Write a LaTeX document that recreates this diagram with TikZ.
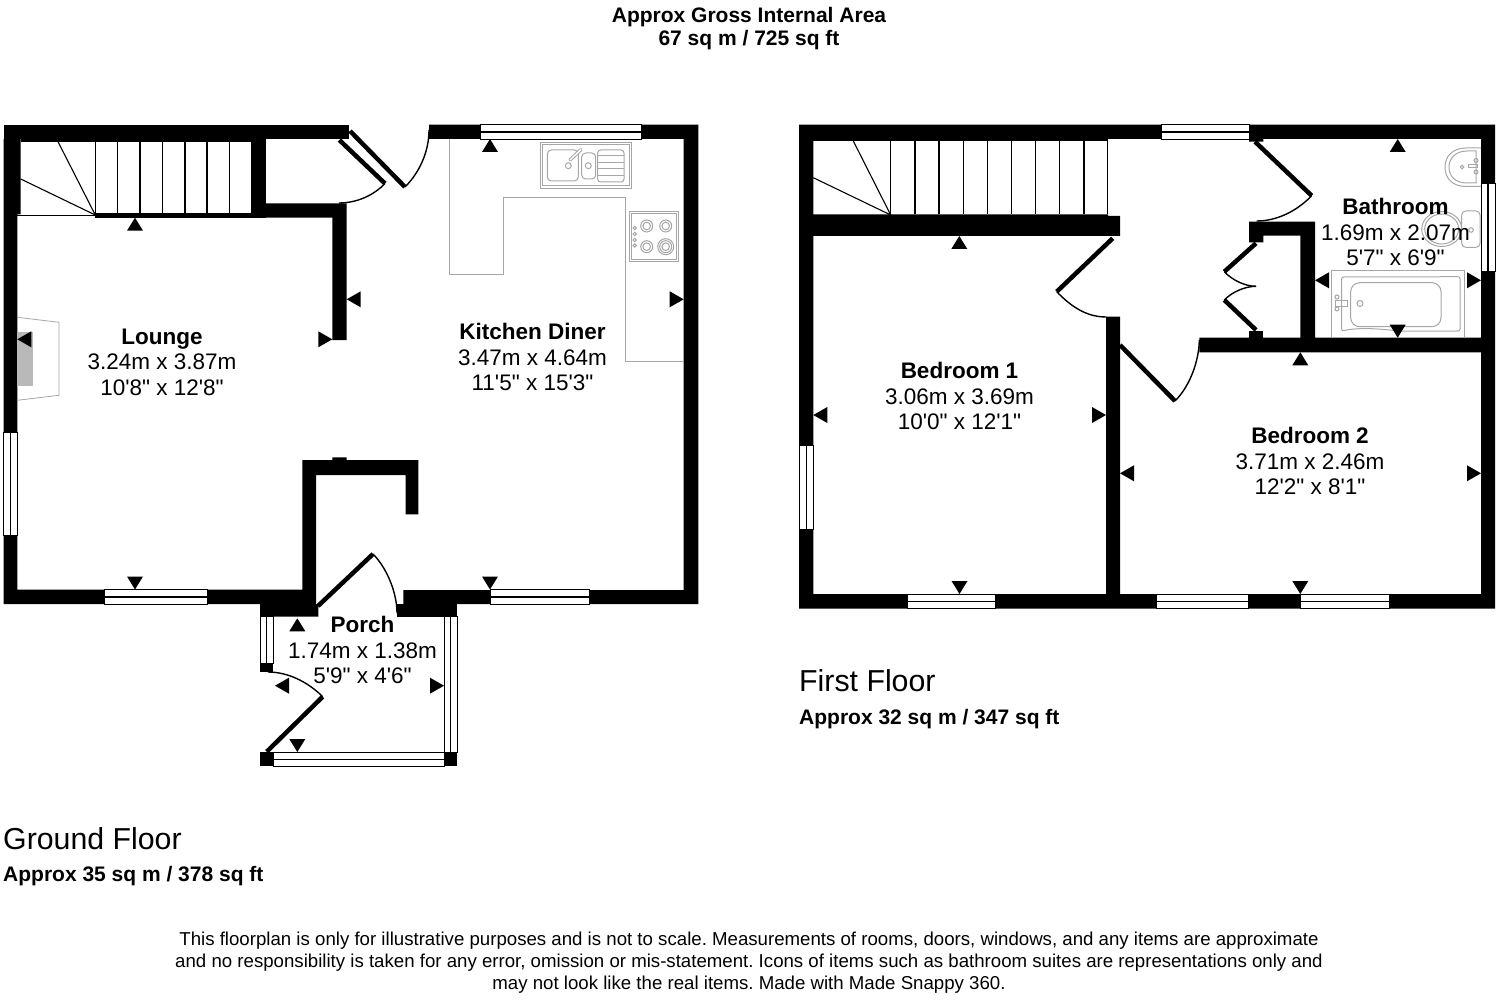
\documentclass[tikz,border=0pt]{standalone}
\usepackage{fontspec}
\setmainfont{Liberation Sans}[Ligatures=TeXOff]
\usetikzlibrary{calc}
\definecolor{fixture}{HTML}{A6A6A6}
\definecolor{hearth}{HTML}{B9B9B9}
\tikzset{%
	wall/.style     = {fill=black},
	pane/.style     = {draw=black, fill=white, line width=0.9pt},
	leaf/.style     = {draw=black, line width=4.5pt},
	swing/.style    = {draw=black, line width=1.4pt},
	unit/.style     = {draw=fixture, line width=1pt},
	room/.style     = {align=center, inner sep=0pt, font=\fontsize{22.5}{25.6}\selectfont},
	caption/.style  = {align=center, inner sep=0pt, font=\fontsize{18.65}{22}\selectfont\frenchspacing},
	heading/.style  = {align=center, inner sep=0pt, font=\fontsize{21}{23}\selectfont\bfseries},
	floorname/.style= {anchor=west, inner sep=0pt, font=\fontsize{30.3}{34}\selectfont},
	floorarea/.style= {anchor=west, inner sep=0pt, font=\fontsize{21}{23}\selectfont\bfseries},
}
% tip of each marker sits on the wall
\newcommand{\tipup}[2]{\fill (#1,#2) -- ++(-8,13) -- ++(16,0) -- cycle;}
\newcommand{\tipdown}[2]{\fill (#1,#2) -- ++(-8,-13) -- ++(16,0) -- cycle;}
\newcommand{\tipleft}[2]{\fill (#1,#2) -- ++(14,-8) -- ++(0,16) -- cycle;}
\newcommand{\tipright}[2]{\fill (#1,#2) -- ++(-14,-8) -- ++(0,16) -- cycle;}
\newcommand{\paneh}[3]{\draw[pane] (#1,#3) rectangle (#2,#3+14.3); \draw[line width=1.3pt] (#1,#3+7.2) -- (#2,#3+7.2);}
\newcommand{\panev}[4]{\draw[pane] (#1,#3) rectangle (#2,#4); \draw[line width=1.3pt] ($(#1,#3)!0.5!(#2,#3)$) -- ($(#1,#4)!0.5!(#2,#4)$);}
\begin{document}
\begin{tikzpicture}[x=1pt,y=-1pt]
	\useasboundingbox (0,0) rectangle (1496,1000);
	
	% ground floor walls
	\fill[wall] (3.5,124.7) rectangle (349,139);
	\fill[wall] (3.5,139) -- (20.7,139) -- (20.7,214.5) -- (17.3,214.5) -- (17.3,589.5) -- (302.3,589.5) -- (302.3,460) -- (332.3,460) -- (332.3,457.3) -- (346.7,457.3) -- (346.7,460) -- (418.3,460) -- (418.3,514.3) -- (405.7,514.3) -- (405.7,475) -- (316,475) -- (316,604) -- (318.3,604) -- (318.3,616.7) -- (260,616.7) -- (260,604) -- (3.5,604) -- cycle;
	\fill[wall] (20.7,139) rectangle (250.7,141.7);
	\fill[wall] (250.7,139) rectangle (266,217.7);
	\fill[wall] (95,213.3) rectangle (252,217.7);
	\fill[wall] (266,203.3) -- (346.5,203.3) -- (346.5,340) -- (332.3,340) -- (332.3,217.7) -- (266,217.7) -- cycle;
	\fill[wall] (429,124.7) -- (698.3,124.7) -- (698.3,604) -- (403.3,604) -- (403.3,590) -- (683.7,590) -- (683.7,139) -- (429,139) -- cycle;
	\fill[wall] (397.3,604) rectangle (457.3,616.7);
	\fill[wall] (260,663) rectangle (273.3,672);
	\fill[wall] (260,752) rectangle (273.3,766);
	\fill[wall] (444,752) rectangle (457.3,766);
	\draw[line width=1pt] (17.3,215.3) -- (95,215.3);
	
	% stairs
	\foreach \tread in {95.3,117.3,140,162.3,185,207,229.7}
		\draw[line width=1.1pt] (\tread,141.7) -- (\tread,214);
	\draw[line width=1.1pt] (58,141.7) -- (95.3,215) -- (20.7,179);
	
	% windows
	\paneh{480}{641}{124.9}
	\paneh{104.5}{207.3}{589.7}
	\paneh{490.5}{589.5}{589.7}
	\panev{3.5}{17.3}{432}{535.3}
	\panev{260}{273.3}{616.7}{663}
	\panev{444}{457.3}{616.7}{752}
	\paneh{273.3}{444}{752}
	
	% doors
	\draw[leaf] (350,131) -- (405,187);
	\draw[swing] (405,187) .. controls (420,172) and (429,151) .. (429,130);
	\draw[leaf] (339.3,140) -- (385,183.5);
	\draw[swing] (385,183.5) .. controls (373,196) and (356,203) .. (339,203);
	\draw[leaf] (318,606) -- (373,554);
	\draw[swing] (373,554) .. controls (387,568) and (397,593) .. (397,613);
	\draw[leaf] (266.7,751.7) -- (322.7,696.7);
	\draw[swing] (322.7,696.7) .. controls (308,682) and (288,672) .. (268,672);
	
	% kitchen units
	\draw[unit] (449.3,139) -- (449.3,275) -- (503.3,275) -- (503.3,197.3) -- (625.3,197.3) -- (625.3,361.3) -- (683.7,361.3);
	\draw[unit] (540,142.7) rectangle (631.3,188.3);
	\draw[unit] (542.3,145) rectangle (629,186);
	\draw[unit,rounded corners=4pt] (547.3,150) rectangle (578.3,181);
	\draw[unit,rounded corners=4pt] (581.7,153) rectangle (595.7,179);
	\draw[unit,rounded corners=3pt] (597.7,150) rectangle (624,182);
	\foreach \slot in {156,162.5,169,175.5}
		\draw[unit] (597.7,\slot) -- (624,\slot);
	\draw[fixture,line width=3.4pt,line cap=round] (570,160) -- (581,149.5);
	\draw[white,line width=1.4pt,line cap=round] (570,160) -- (581,149.5);
	\draw[unit] (568.3,165.7) circle (3) (588.3,165.7) circle (3);
	\draw[unit] (629.3,212) rectangle (678.7,261.7);
	\draw[unit] (631.5,214) rectangle (676.5,259.5);
	\foreach \ringx/\ringy in {646.7/226,665.7/226,646.7/246.7,665.7/246.7}{
		\draw[unit] (\ringx,\ringy) circle (6);
		\draw[unit] (\ringx,\ringy) circle (3.8);
	}
	\draw[unit] (665.7,246.7) circle (8);
	\foreach \knob in {228,234,240,245.5}
		\draw[unit] (634.7,\knob) circle (1.7);
	
	% fireplace
	\fill[hearth] (17.3,332) rectangle (33.3,385.7);
	\draw[fixture,line width=0.8pt] (17.3,317.3) -- (59,322.3) -- (59,395.3) -- (17.3,400.3);
	
	% first floor walls
	\fill[wall] (799,124.7) -- (1161.7,124.7) -- (1161.7,139) -- (813.3,139) -- (813.3,214.5) -- (1108,214.5) -- (1108,216) -- (1120,216) -- (1120,236) -- (813.3,236) -- (813.3,594) -- (1106,594) -- (1106,316.7) -- (1120,316.7) -- (1120,594) -- (1481,594) -- (1481,352.3) -- (1199.3,352.3) -- (1199.3,337.7) -- (1300.3,337.7) -- (1300.3,235.7) -- (1263.3,235.7) -- (1263.3,242.3) -- (1249,242.3) -- (1249,221.7) -- (1315,221.7) -- (1315,337.7) -- (1481,337.7) -- (1481,139) -- (1263.3,139) -- (1263.3,141.7) -- (1249,141.7) -- (1249,124.7) -- (1495,124.7) -- (1495,608.5) -- (799,608.5) -- cycle;
	\fill[wall] (813.3,139) rectangle (1108,141);
	\fill[wall] (1249,331) rectangle (1263.3,338);
	
	% stairs
	\foreach \tread in {890.7,915,939,963.3,987.3,1011.3,1035.7,1059.3,1084,1107.7}
		\draw[line width=1.1pt] (\tread,141) -- (\tread,214.5);
	\draw[line width=1.1pt] (853.3,141) -- (890.7,215) -- (813.3,177.7);
	
	% windows
	\paneh{1161.7}{1249}{124.9}
	\paneh{907.6}{995.9}{594.2}
	\paneh{1156.5}{1248.5}{594.2}
	\paneh{1300.5}{1389.5}{594.2}
	\panev{799}{813.3}{445}{529.3}
	\panev{1481}{1495}{183.3}{271.7}
	
	% doors
	\draw[leaf] (1112.7,238.3) -- (1056.7,291.7);
	\draw[swing] (1056.7,291.7) .. controls (1070.5,306) and (1086,317) .. (1106,317);
	\draw[leaf] (1255,141.7) -- (1311.7,195.7);
	\draw[swing] (1311.7,195.7) .. controls (1297,211) and (1277,221) .. (1256.7,221);
	\draw[leaf] (1256,243.3) -- (1224.3,271.7);
	\draw[swing] (1224.3,271.7) .. controls (1232,280) and (1245,286.3) .. (1256,286.3);
	\draw[leaf] (1256,330) -- (1224.3,300);
	\draw[swing] (1224.3,300) .. controls (1232,292) and (1245,286.3) .. (1256,286.3);
	\draw[leaf] (1120,345) -- (1175,401);
	\draw[swing] (1175,401) .. controls (1190,386) and (1199,361) .. (1199.3,340);
	
	% bathroom suite
	\draw[unit] (1331.7,270.7) rectangle (1464.3,337);
	\draw[unit,rounded corners=2pt] (1341.7,277) -- (1460,276.7) -- (1460,331) -- (1400,331) .. controls (1380,329) and (1360,327) .. (1341.7,331) -- cycle;
	\draw[unit,rounded corners=9pt] (1350.7,282.7) -- (1441,282.7) -- (1441,326.7) -- (1350.7,326.7) -- cycle;
	\draw[unit] (1335,300.5) rectangle (1347,306);
	\draw[unit] (1337,297) circle (2) (1337,309) circle (2) (1360,303.5) circle (3);
	\draw[unit,rounded corners=4pt] (1461.7,211) rectangle (1480,247.3);
	\draw[unit] (1441.7,229) ellipse (20 and 17.5);
	\draw[unit] (1441.7,229) ellipse (17 and 15);
	\draw[unit] (1471,230) circle (2.3);
	\draw[unit] (1481,148) -- (1466,148) .. controls (1452,148) and (1445,157) .. (1445,167) .. controls (1445,178) and (1452,186.5) .. (1466,186.5) -- (1481,186.5);
	\draw[unit] (1476,151) -- (1467,151) .. controls (1455,151) and (1449,159) .. (1449,167) .. controls (1449,176) and (1455,183) .. (1467,183) -- (1476,183) -- cycle;
	\draw[unit] (1468,165) rectangle (1477,168);
	\draw[unit] (1476,160.5) circle (2) (1476,172) circle (2) (1462,167) circle (1.8);
	
	% markers, ground floor
	\tipup{135}{217.7} \tipleft{17.3}{339.3} \tipright{332.3}{339.3} \tipdown{135}{589.5}
	\tipup{490}{139} \tipleft{346.7}{299.3} \tipright{683.7}{299.3} \tipdown{490}{589.5}
	\tipup{297.3}{618.3} \tipleft{275}{685.7} \tipright{444}{685.7} \tipdown{297.3}{752}
	% markers, first floor
	\tipup{959.3}{236} \tipleft{813.3}{415} \tipright{1106}{415} \tipdown{959.5}{594}
	\tipup{1300.3}{352.3} \tipleft{1120}{473.3} \tipright{1481}{473.3} \tipdown{1300.3}{594}
	\tipup{1397.7}{139} \tipleft{1315}{280.3} \tipright{1481}{280.3} \tipdown{1397.7}{337.7}
	
	% texts
	\node[room] (lounge) at (162,362) {\textbf{Lounge}\\3.24m x 3.87m\\10'8" x 12'8"};
	\node[room] (kitchen) at (532.5,357) {\textbf{Kitchen Diner}\\3.47m x 4.64m\\11'5" x 15'3"};
	\node[room] (porch) at (362.5,650) {\textbf{Porch}\\1.74m x 1.38m\\5'9" x 4'6"};
	\node[room] (bedone) at (959.5,396) {\textbf{Bedroom 1}\\3.06m x 3.69m\\10'0" x 12'1"};
	\node[room] (bedtwo) at (1310,461) {\textbf{Bedroom 2}\\3.71m x 2.46m\\12'2" x 8'1"};
	\node[room] (bathroom) at (1395.5,232) {\textbf{Bathroom}\\1.69m x 2.07m\\5'7" x 6'9"};
	\node[heading] (gross) at (749,29) {Approx Gross Internal Area\\67 sq m / 725 sq ft};
	\node[floorname] (ground) at (3,839) {Ground Floor};
	\node[floorarea] (groundarea) at (3,876.5) {Approx 35 sq m / 378 sq ft};
	\node[floorname] (first) at (799,681) {First Floor};
	\node[floorarea] (firstarea) at (799,719) {Approx 32 sq m / 347 sq ft};
	\node[caption] (notice) at (749,962.5) {This floorplan is only for illustrative purposes and is not to scale. Measurements of rooms, doors, windows, and any items are approximate\\and no responsibility is taken for any error, omission or mis-statement. Icons of items such as bathroom suites are representations only and\\may not look like the real items. Made with Made Snappy 360.};
\end{tikzpicture}
\end{document}
